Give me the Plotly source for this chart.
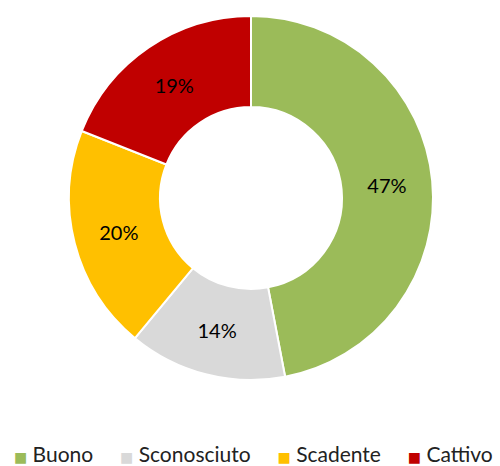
import plotly.graph_objects as go

labels = ["Buono", "Sconosciuto", "Scadente", "Cattivo"]
values = [47, 14, 20, 19]
colors = ["#9BBB59", "#D9D9D9", "#FFC000", "#C00000"]

W, H = 500, 466
cx, cy, r = 251, 198, 182

fig = go.Figure(go.Pie(
    labels=labels,
    values=values,
    hole=0.5,
    sort=False,
    direction="clockwise",
    rotation=0,
    marker=dict(colors=colors, line=dict(color="white", width=2)),
    textinfo="percent",
    texttemplate="%{percent:.0%}",
    textposition="inside",
    insidetextorientation="horizontal",
    textfont=dict(color="black", size=20, family="Lato"),
    domain=dict(x=[(cx - r) / W, (cx + r) / W], y=[1 - (cy + r) / H, 1 - (cy - r) / H]),
    hoverinfo="label+percent",
    showlegend=False,
))

# Legend drawn as a single text line built from the labels and colours
gap = "\u00a0" * 5
legend_text = gap.join(
    f'<span style="color:{c};font-family:DejaVu Sans;font-size:14px">\u25A0</span>\u00a0{lab}'
    for lab, c in zip(labels, colors)
)

fig.update_layout(
    width=W, height=H,
    margin=dict(l=0, r=0, t=0, b=0),
    paper_bgcolor="white",
    plot_bgcolor="white",
    font=dict(family="Lato", color="black"),
    showlegend=False,
    annotations=[dict(
        text=legend_text,
        x=253 / W, y=1 - 453 / H,
        xref="paper", yref="paper",
        xanchor="center", yanchor="middle",
        showarrow=False,
        font=dict(size=21, color="#222", family="Lato"),
    )],
)

fig.write_html("out.html", post_script="document.body.style.margin='0';",
               config={"displayModeBar": False})
